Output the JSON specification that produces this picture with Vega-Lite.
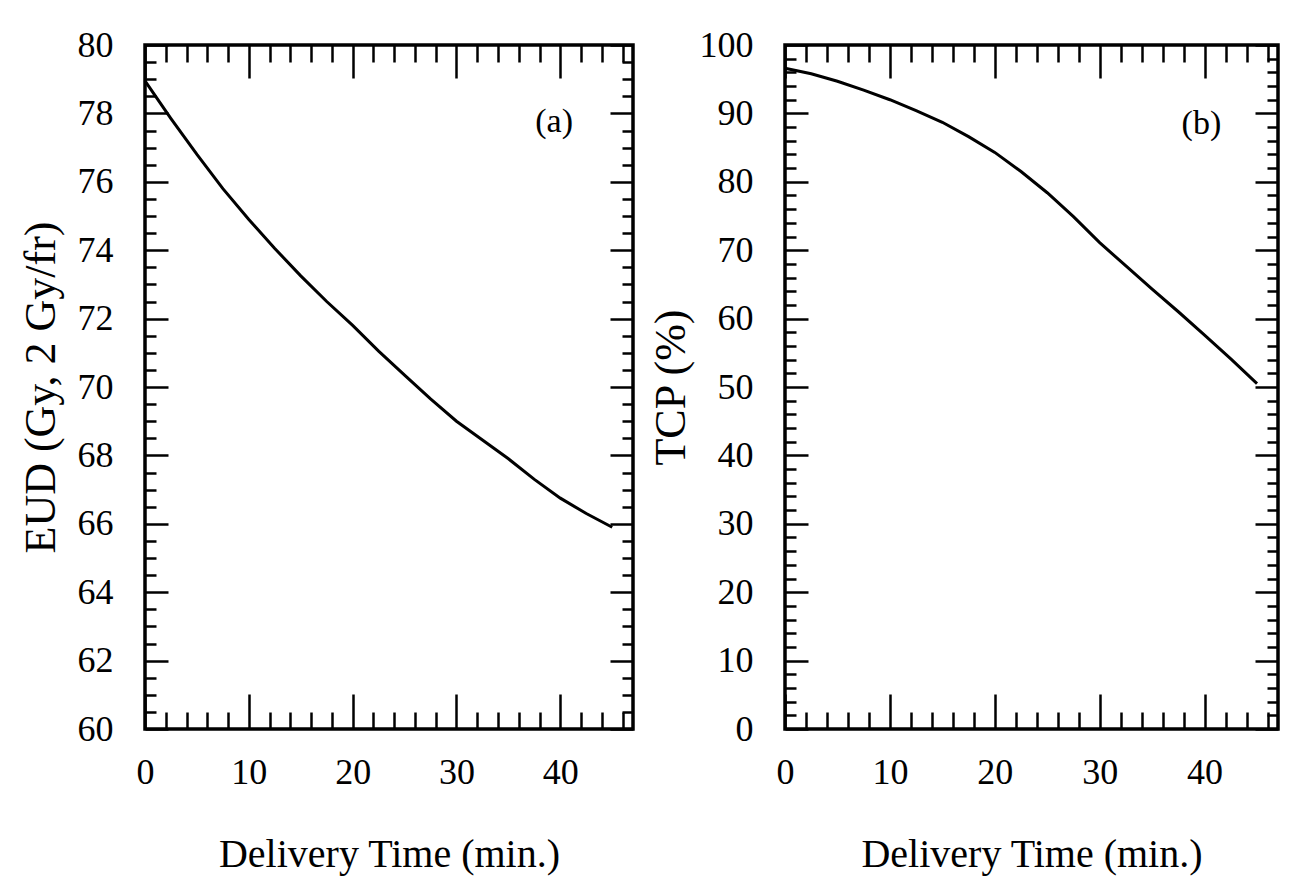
{
  "$schema": "https://vega.github.io/schema/vega-lite/v6.json",
  "background": "white",
  "padding": {"left": 17, "top": 25, "right": 5, "bottom": 5},
  "config": {
    "font": "Liberation Serif",
    "view": {"stroke": "black", "strokeWidth": 3.5},
    "axis": {
      "domain": false, "grid": false,
      "labelFont": "Liberation Serif", "titleFont": "Liberation Serif",
      "labelColor": "black", "titleColor": "black", "tickColor": "black",
      "labelFontWeight": "normal", "titleFontWeight": "normal",
      "tickWidth": 2.5, "labelFontSize": 36, "titleFontSize": 40,
      "labelOverlap": false, "labelFlush": false, "format": "d"
    }
  },
  "datasets": {
    "eud": [
      {"t": 0, "v": 78.95}, {"t": 2.5, "v": 77.85}, {"t": 5, "v": 76.8}, {"t": 7.5, "v": 75.8},
      {"t": 10, "v": 74.9}, {"t": 12.5, "v": 74.05}, {"t": 15, "v": 73.25}, {"t": 17.5, "v": 72.5},
      {"t": 20, "v": 71.8}, {"t": 22.5, "v": 71.05}, {"t": 25, "v": 70.35}, {"t": 27.5, "v": 69.65},
      {"t": 30, "v": 69.0}, {"t": 32.5, "v": 68.45}, {"t": 35, "v": 67.9}, {"t": 37.5, "v": 67.3},
      {"t": 40, "v": 66.75}, {"t": 42.5, "v": 66.3}, {"t": 45, "v": 65.9}
    ],
    "tcp": [
      {"t": 0, "v": 96.6}, {"t": 2.5, "v": 95.8}, {"t": 5, "v": 94.7}, {"t": 7.5, "v": 93.4},
      {"t": 10, "v": 92.0}, {"t": 12.5, "v": 90.4}, {"t": 15, "v": 88.7}, {"t": 17.5, "v": 86.6},
      {"t": 20, "v": 84.3}, {"t": 22.5, "v": 81.5}, {"t": 25, "v": 78.4}, {"t": 27.5, "v": 74.9},
      {"t": 30, "v": 71.1}, {"t": 32.5, "v": 67.7}, {"t": 35, "v": 64.3}, {"t": 37.5, "v": 61.0},
      {"t": 40, "v": 57.6}, {"t": 42.5, "v": 54.1}, {"t": 45, "v": 50.5}
    ],
    "labA": [{"t": 39.4, "v": 77.75, "label": "(a)"}],
    "labB": [{"t": 39.7, "v": 88.5, "label": "(b)"}]
  },
  "spacing": 11,
  "hconcat": [
    {
      "width": 488, "height": 684,
      "layer": [
        {
          "data": {"name": "eud"},
          "mark": {"type": "line", "color": "black", "strokeWidth": 3},
          "encoding": {
            "x": {"field": "t", "type": "quantitative",
              "scale": {"domain": [0, 47], "nice": false},
              "axis": {"orient": "bottom",
                "values": [0,2,4,6,8,10,12,14,16,18,20,22,24,26,28,30,32,34,36,38,40,42,44,46],
                "labelExpr": "datum.value % 10 === 0 ? datum.label : ''",
                "tickSize": {"condition": {"test": "datum.value % 10 === 0", "value": -35}, "value": -17},
                "labelPadding": 61, "title": "Delivery Time (min.)", "titlePadding": 26}},
            "y": {"field": "v", "type": "quantitative",
              "scale": {"domain": [60, 80], "nice": false, "zero": false},
              "axis": {"orient": "left",
                "values": [60,60.5,61,61.5,62,62.5,63,63.5,64,64.5,65,65.5,66,66.5,67,67.5,68,68.5,69,69.5,70,70.5,71,71.5,72,72.5,73,73.5,74,74.5,75,75.5,76,76.5,77,77.5,78,78.5,79,79.5,80],
                "labelExpr": "datum.value % 2 === 0 ? datum.label : ''",
                "tickSize": {"condition": {"test": "datum.value % 2 === 0", "value": -23}, "value": -11},
                "labelPadding": 55, "title": "EUD (Gy, 2 Gy/fr)", "titleFontSize": 44, "titlePadding": 14}}
          }
        },
        {
          "data": {"name": "labA"},
          "mark": {"type": "text", "fontSize": 34, "font": "Liberation Serif", "color": "black"},
          "encoding": {
            "x": {"field": "t", "type": "quantitative",
              "scale": {"domain": [0, 47], "nice": false},
              "axis": {"orient": "top",
                "values": [0,2,4,6,8,10,12,14,16,18,20,22,24,26,28,30,32,34,36,38,40,42,44,46],
                "labels": false, "title": null,
                "tickSize": {"condition": {"test": "datum.value % 10 === 0", "value": -33}, "value": -17}}},
            "y": {"field": "v", "type": "quantitative",
              "scale": {"domain": [60, 80], "nice": false, "zero": false},
              "axis": {"orient": "right",
                "values": [60,60.5,61,61.5,62,62.5,63,63.5,64,64.5,65,65.5,66,66.5,67,67.5,68,68.5,69,69.5,70,70.5,71,71.5,72,72.5,73,73.5,74,74.5,75,75.5,76,76.5,77,77.5,78,78.5,79,79.5,80],
                "labels": false, "title": null,
                "tickSize": {"condition": {"test": "datum.value % 2 === 0", "value": -23}, "value": -11}}},
            "text": {"field": "label"}
          }
        }
      ],
      "resolve": {"axis": {"x": "independent", "y": "independent"}}
    },
    {
      "width": 493, "height": 684,
      "layer": [
        {
          "data": {"name": "tcp"},
          "mark": {"type": "line", "color": "black", "strokeWidth": 3},
          "encoding": {
            "x": {"field": "t", "type": "quantitative",
              "scale": {"domain": [0, 47], "nice": false},
              "axis": {"orient": "bottom",
                "values": [0,2,4,6,8,10,12,14,16,18,20,22,24,26,28,30,32,34,36,38,40,42,44,46],
                "labelExpr": "datum.value % 10 === 0 ? datum.label : ''",
                "tickSize": {"condition": {"test": "datum.value % 10 === 0", "value": -35}, "value": -17},
                "labelPadding": 61, "title": "Delivery Time (min.)", "titlePadding": 26}},
            "y": {"field": "v", "type": "quantitative",
              "scale": {"domain": [0, 100], "nice": false},
              "axis": {"orient": "left",
                "values": [0,2,4,6,8,10,12,14,16,18,20,22,24,26,28,30,32,34,36,38,40,42,44,46,48,50,52,54,56,58,60,62,64,66,68,70,72,74,76,78,80,82,84,86,88,90,92,94,96,98,100],
                "labelExpr": "datum.value % 10 === 0 ? datum.label : ''",
                "tickSize": {"condition": {"test": "datum.value % 10 === 0", "value": -23}, "value": -11},
                "labelPadding": 55, "title": "TCP (%)", "titleFontSize": 44, "titlePadding": 6}}
          }
        },
        {
          "data": {"name": "labB"},
          "mark": {"type": "text", "fontSize": 34, "font": "Liberation Serif", "color": "black"},
          "encoding": {
            "x": {"field": "t", "type": "quantitative",
              "scale": {"domain": [0, 47], "nice": false},
              "axis": {"orient": "top",
                "values": [0,2,4,6,8,10,12,14,16,18,20,22,24,26,28,30,32,34,36,38,40,42,44,46],
                "labels": false, "title": null,
                "tickSize": {"condition": {"test": "datum.value % 10 === 0", "value": -33}, "value": -17}}},
            "y": {"field": "v", "type": "quantitative",
              "scale": {"domain": [0, 100], "nice": false},
              "axis": {"orient": "right",
                "values": [0,2,4,6,8,10,12,14,16,18,20,22,24,26,28,30,32,34,36,38,40,42,44,46,48,50,52,54,56,58,60,62,64,66,68,70,72,74,76,78,80,82,84,86,88,90,92,94,96,98,100],
                "labels": false, "title": null,
                "tickSize": {"condition": {"test": "datum.value % 10 === 0", "value": -23}, "value": -11}}},
            "text": {"field": "label"}
          }
        }
      ],
      "resolve": {"axis": {"x": "independent", "y": "independent"}}
    }
  ]
}
